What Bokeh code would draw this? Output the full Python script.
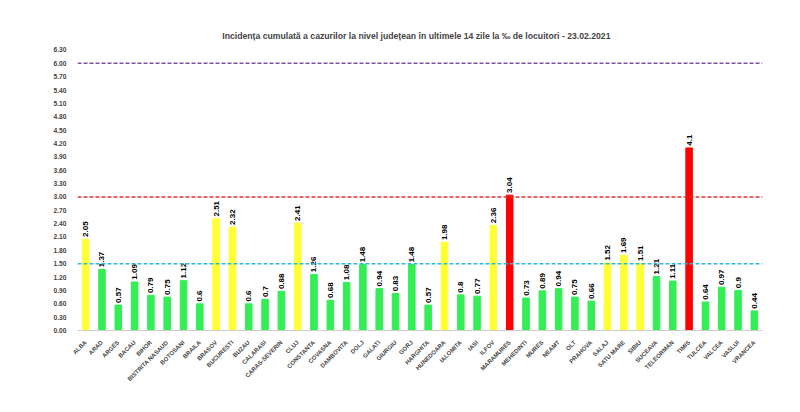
from bokeh.plotting import figure
from bokeh.models import ColumnDataSource, Span, FixedTicker, Title, CustomJSTickFormatter
from bokeh.embed import file_html
from bokeh.resources import INLINE
from bokeh.core.properties import value
import math

counties = ["ALBA","ARAD","ARGES","BACAU","BIHOR","BISTRITA NASAUD","BOTOSANI","BRAILA","BRASOV","BUCURESTI",
            "BUZAU","CALARASI","CARAS-SEVERIN","CLUJ","CONSTANTA","COVASNA","DAMBOVITA","DOLJ","GALATI","GIURGIU",
            "GORJ","HARGHITA","HUNEDOARA","IALOMITA","IASI","ILFOV","MARAMURES","MEHEDINTI","MURES","NEAMT",
            "OLT","PRAHOVA","SALAJ","SATU MARE","SIBIU","SUCEAVA","TELEORMAN","TIMIS","TULCEA","VALCEA","VASLUI","VRANCEA"]
values = [2.05,1.37,0.57,1.09,0.79,0.75,1.12,0.6,2.51,2.32,0.6,0.7,0.88,2.41,1.26,0.68,1.08,1.48,0.94,0.83,
          1.48,0.57,1.98,0.8,0.77,2.36,3.04,0.73,0.89,0.94,0.75,0.66,1.52,1.69,1.51,1.21,1.11,4.1,0.64,0.97,0.9,0.44]
yticks = [round(i*0.3, 2) for i in range(22)]
thresholds = [(6.0, "#7b52a8"), (3.0, "#e03030"), (1.5, "#30b8d8")]

def col(v):
    if v >= 3: return "#ff0000"
    if v >= 1.5: return "#ffff33"
    return "#33ee55"

labels = [("%g" % v) for v in values]
src = ColumnDataSource(dict(x=counties, top=values, color=[col(v) for v in values], lab=labels,
                            ly=[v + 0.05 for v in values]))

p = figure(x_range=counties, y_range=(0, 6.4), width=770, height=398, output_backend="svg",
           toolbar_location=None, min_border_left=77, min_border_right=8, min_border_top=45, min_border_bottom=68,
           outline_line_color=None)
p.add_layout(Title(text="Incidența cumulată a cazurilor la nivel județean în ultimele 14 zile   la ‰ de locuitori  - 23.02.2021",
                   align="center", text_font_size="6.5pt", text_font="Liberation Sans", text_font_style="bold"), "above")
p.vbar(x="x", top="top", width=0.4, color="color", source=src)
p.text(x="x", y="ly", text="lab", angle=math.pi/2, text_font_size="6pt", text_font=value("Liberation Sans"),
       text_font_style="bold", text_baseline="middle", text_align="left", source=src)
for y, c in thresholds:
    p.add_layout(Span(location=y, dimension="width", line_color=c, line_dash="4 2", line_width=1.5))
p.xgrid.visible = False
p.ygrid.visible = False
p.yaxis.ticker = FixedTicker(ticks=yticks)
p.yaxis.formatter = CustomJSTickFormatter(code="return tick.toFixed(2);")
for ax in (p.xaxis, p.yaxis):
    ax.major_label_text_font_size = "5pt"
    ax.major_label_text_font = "Liberation Sans"
    ax.major_label_text_font_style = "bold"
    ax.major_tick_line_color = None
    ax.minor_tick_line_color = None
p.xaxis.major_label_text_font_size = "4.5pt"
p.yaxis.axis_line_color = None
p.xaxis.axis_line_color = "#cccccc"
p.xaxis.major_label_orientation = math.pi/4

open("out.html", "w").write(file_html(p, INLINE))
